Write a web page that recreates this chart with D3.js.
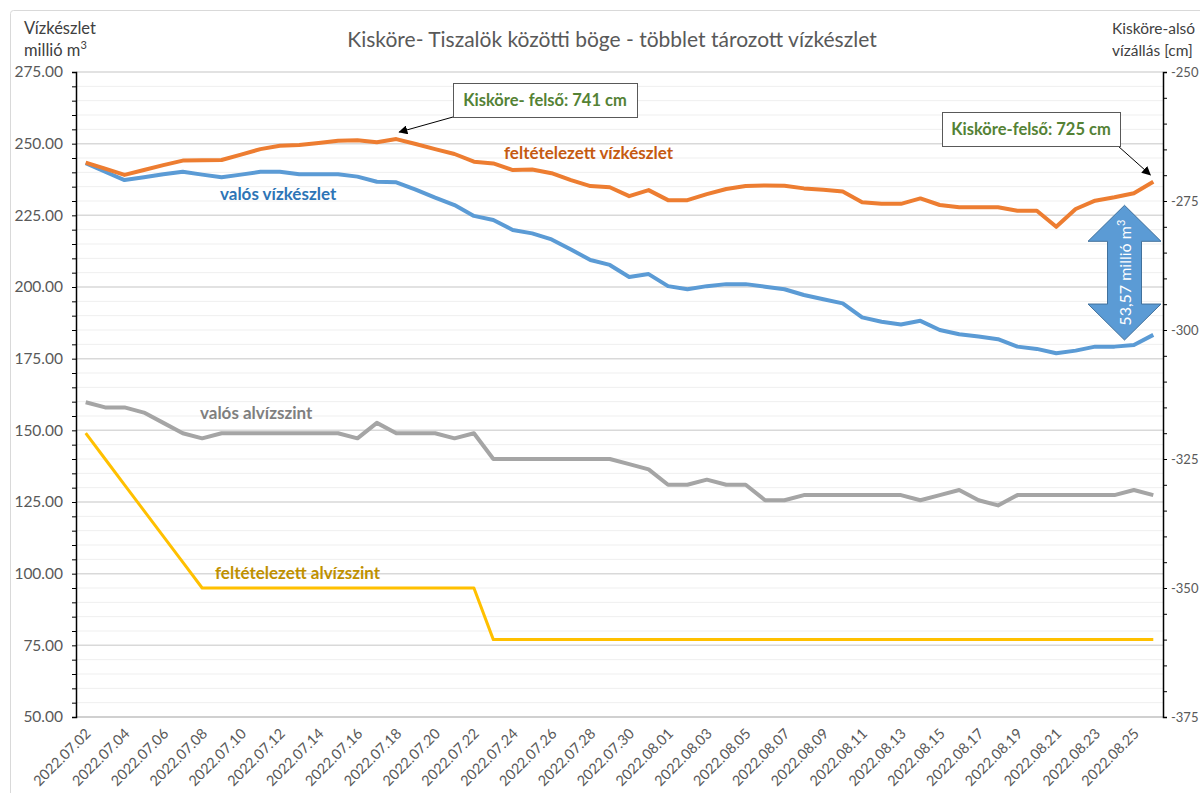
<!DOCTYPE html>
<html lang="hu">
<head>
  <meta charset="utf-8" />
  <title>Kisköre- Tiszalök közötti böge</title>
  <style>
    body { margin: 0; background: #fff; }
    svg text { font-family: Lato, "Open Sans", sans-serif; }
  </style>
</head>
<body>
  <div id="graphic"></div>

  <script src="https://cdnjs.cloudflare.com/ajax/libs/d3/7.8.5/d3.min.js"></script>
  <script>
    // napok (kategória tengely)
    var dates = [
      "2022.07.02","2022.07.03","2022.07.04","2022.07.05","2022.07.06","2022.07.07","2022.07.08",
      "2022.07.09","2022.07.10","2022.07.11","2022.07.12","2022.07.13","2022.07.14","2022.07.15",
      "2022.07.16","2022.07.17","2022.07.18","2022.07.19","2022.07.20","2022.07.21","2022.07.22",
      "2022.07.23","2022.07.24","2022.07.25","2022.07.26","2022.07.27","2022.07.28","2022.07.29",
      "2022.07.30","2022.07.31","2022.08.01","2022.08.02","2022.08.03","2022.08.04","2022.08.05",
      "2022.08.06","2022.08.07","2022.08.08","2022.08.09","2022.08.10","2022.08.11","2022.08.12",
      "2022.08.13","2022.08.14","2022.08.15","2022.08.16","2022.08.17","2022.08.18","2022.08.19",
      "2022.08.20","2022.08.21","2022.08.22","2022.08.23","2022.08.24","2022.08.25","2022.08.26"
    ];

    // millió m3 (bal tengely)
    var feltetelezettViz = [
      243.4,241.3,239.1,240.8,242.5,244.1,244.2,244.3,246.2,248.1,249.3,249.5,250.2,251.0,
      251.2,250.5,251.6,249.9,248.1,246.4,243.7,243.1,240.8,241.0,239.7,237.3,235.2,234.8,
      231.7,233.8,230.3,230.3,232.4,234.2,235.2,235.4,235.3,234.4,233.9,233.3,229.6,229.0,
      229.0,230.9,228.6,227.8,227.8,227.8,226.6,226.6,221.0,227.2,230.1,231.3,232.7,236.7
    ];
    var valosViz = [
      243.2,240.2,237.3,238.3,239.3,240.2,239.2,238.3,239.2,240.2,240.2,239.3,239.3,239.3,
      238.5,236.7,236.5,234.0,231.2,228.6,224.8,223.4,219.9,218.7,216.6,213.1,209.4,207.7,
      203.5,204.5,200.3,199.2,200.3,201.0,201.0,200.1,199.2,197.2,195.7,194.3,189.4,187.9,
      186.9,188.2,185.0,183.5,182.7,181.8,179.2,178.4,176.9,177.8,179.2,179.2,179.8,183.3
    ];

    // cm (jobb tengely)
    var valosAlviz = [
      -314,-315,-315,-316,-318,-320,-321,-320,-320,-320,-320,-320,-320,-320,
      -321,-318,-320,-320,-320,-321,-320,-325,-325,-325,-325,-325,-325,-325,
      -326,-327,-330,-330,-329,-330,-330,-333,-333,-332,-332,-332,-332,-332,
      -332,-333,-332,-331,-333,-334,-332,-332,-332,-332,-332,-332,-331,-332
    ];
    var feltetelezettAlviz = [
      -320,-325,-330,-335,-340,-345,-350,-350,-350,-350,-350,-350,-350,-350,
      -350,-350,-350,-350,-350,-350,-350,-360,-360,-360,-360,-360,-360,-360,
      -360,-360,-360,-360,-360,-360,-360,-360,-360,-360,-360,-360,-360,-360,
      -360,-360,-360,-360,-360,-360,-360,-360,-360,-360,-360,-360,-360,-360
    ];

    var leftTicks = [50, 75, 100, 125, 150, 175, 200, 225, 250, 275];
    var rightTicks = [-375, -350, -325, -300, -275, -250];

    var width = 1200, height = 793;
    var margin = {top: 72, right: 37, bottom: 76, left: 76};

    var svg = d3.select('#graphic').append('svg')
      .attr('width', width)
      .attr('height', height);

    // chart frame
    svg.append('rect')
      .attr('x', 10.5).attr('y', 10.5)
      .attr('width', 1260).attr('height', 860)
      .attr('rx', 3)
      .attr('fill', '#fff')
      .attr('stroke', '#d9d9d9');

    var x = d3.scalePoint()
      .domain(dates)
      .range([margin.left, width - margin.right])
      .padding(0.5);

    var yL = d3.scaleLinear()
      .domain([50, 275])
      .range([height - margin.bottom, margin.top]);

    var yR = d3.scaleLinear()
      .domain([-375, -250])
      .range([height - margin.bottom, margin.top]);

    // gridlines every 5, stronger every 25
    svg.append('g')
      .selectAll('line')
      .data(d3.range(55, 276, 5))
      .enter().append('line')
        .attr('x1', margin.left).attr('x2', width - margin.right)
        .attr('y1', function(d){ return yL(d); })
        .attr('y2', function(d){ return yL(d); })
        .attr('stroke', function(d){ return d % 25 === 0 ? '#d9d9d9' : '#efefef'; })
        .attr('stroke-width', function(d){ return d % 25 === 0 ? 1.5 : 1; });

    // bottom axis line
    svg.append('line')
      .attr('x1', margin.left).attr('x2', width - margin.right)
      .attr('y1', yL(50)).attr('y2', yL(50))
      .attr('stroke', '#d0d0d0').attr('stroke-width', 2);

    // left axis
    var leftAxis = svg.append('g')
      .attr('transform', 'translate(' + margin.left + ',0)')
      .call(d3.axisLeft(yL)
        .tickValues(d3.range(50, 276, 5))
        .tickSize(4)
        .tickFormat(function(d){ return leftTicks.indexOf(d) > -1 ? d3.format('.2f')(d) : ''; }));
    leftAxis.select('.domain').attr('stroke', '#000').attr('stroke-width', 1.5);
    leftAxis.selectAll('.tick line').attr('stroke', '#000');
    leftAxis.selectAll('text').attr('fill', '#595959').attr('font-size', '15.5px').attr('x', -13);

    // right axis
    var rightAxis = svg.append('g')
      .attr('transform', 'translate(' + (width - margin.right) + ',0)')
      .call(d3.axisRight(yR)
        .tickValues(d3.range(-375, -249, 5))
        .tickSize(4)
        .tickFormat(function(d){ return rightTicks.indexOf(d) > -1 ? d : ''; }));
    rightAxis.select('.domain').attr('stroke', '#000').attr('stroke-width', 1.5);
    rightAxis.selectAll('.tick line').attr('stroke', '#000');
    rightAxis.selectAll('text').attr('fill', '#595959').attr('font-size', '13px').attr('x', 8);

    // x axis labels (every second day)
    var xAxis = svg.append('g')
      .attr('transform', 'translate(0,' + yL(50) + ')')
      .call(d3.axisBottom(x)
        .tickValues(dates.filter(function(d, i){ return i % 2 === 0; }))
        .tickSize(0));
    xAxis.select('.domain').remove();
    xAxis.selectAll('text')
      .attr('fill', '#595959')
      .attr('font-size', '14.5px')
      .attr('text-anchor', 'end')
      .attr('x', 0).attr('y', 0).attr('dy', '0.35em')
      .attr('transform', 'translate(2,14) rotate(-45)');

    // lines
    function drawLine(values, scale, colour, w) {
      var line = d3.line()
        .x(function(d, i){ return x(dates[i]); })
        .y(function(d){ return scale(d); });
      svg.append('path')
        .datum(values)
        .attr('d', line)
        .attr('fill', 'none')
        .attr('stroke', colour)
        .attr('stroke-width', w)
        .attr('stroke-linejoin', 'round');
    }
    drawLine(feltetelezettAlviz, yR, '#ffc000', 3);
    drawLine(valosAlviz, yR, '#a5a5a5', 4);
    drawLine(valosViz, yL, '#5b9bd5', 4);
    drawLine(feltetelezettViz, yL, '#ed7d31', 4);

    // title and axis titles
    svg.append('text')
      .attr('x', 612).attr('y', 47)
      .attr('text-anchor', 'middle')
      .attr('font-size', '21px')
      .attr('fill', '#595959')
      .text('Kisköre- Tiszalök közötti böge - többlet tározott vízkészlet');

    var lt = svg.append('text').attr('font-size', '16.5px').attr('fill', '#404040');
    lt.append('tspan').attr('x', 24).attr('y', 34).text('Vízkészlet');
    lt.append('tspan').attr('x', 24).attr('y', 56).text('millió m');
    lt.append('tspan').attr('dy', -7).attr('font-size', '11px').text('3');

    var rt = svg.append('text').attr('font-size', '15.5px').attr('fill', '#404040');
    rt.append('tspan').attr('x', 1112).attr('y', 34).text('Kisköre-alsó');
    rt.append('tspan').attr('x', 1112).attr('y', 56).text('vízállás [cm]');

    // series labels
    function label(txt, lx, ly, colour) {
      svg.append('text')
        .attr('x', lx).attr('y', ly)
        .attr('font-size', '17px')
        .attr('font-weight', 'bold')
        .attr('fill', colour)
        .text(txt);
    }
    label('feltételezett vízkészlet', 504, 159, '#c55a11');
    label('valós vízkészlet', 220, 200, '#2e75b6');
    label('valós alvízszint', 200, 419, '#7f7f7f');
    label('feltételezett alvízszint', 215, 579, '#bf9000');

    // callout boxes with arrows
    svg.append('defs').append('marker')
      .attr('id', 'arr')
      .attr('viewBox', '0 0 10 10')
      .attr('refX', 9).attr('refY', 5)
      .attr('markerWidth', 9).attr('markerHeight', 9)
      .attr('orient', 'auto')
      .append('path').attr('d', 'M0,0 L10,5 L0,10 z').attr('fill', '#000');

    function callout(txt, bx, by, bw, bh, sx, sy, idx, scale, values) {
      svg.append('line')
        .attr('x1', sx).attr('y1', sy)
        .attr('x2', x(dates[idx]) + (sx > x(dates[idx]) ? 3 : -3))
        .attr('y2', scale(values[idx]) - 7)
        .attr('stroke', '#000').attr('stroke-width', 1)
        .attr('marker-end', 'url(#arr)');
      svg.append('rect')
        .attr('x', bx + 0.5).attr('y', by + 0.5)
        .attr('width', bw).attr('height', bh)
        .attr('fill', '#fff').attr('stroke', '#595959');
      svg.append('text')
        .attr('x', bx + bw / 2).attr('y', by + bh / 2 + 6)
        .attr('text-anchor', 'middle')
        .attr('font-size', '16.5px').attr('font-weight', 'bold')
        .attr('fill', '#548235')
        .text(txt);
    }
    callout('Kisköre- felső: 741 cm', 453, 83, 184, 34, 453, 117, 16, yL, feltetelezettViz);
    callout('Kisköre-felső: 725 cm', 942, 112, 178, 34, 1118, 146, 55, yL, feltetelezettViz);

    // double arrow showing the difference at the last day
    var arrowX = 1124.5, arrowTop = yL(228.5), arrowBot = yL(181.5);
    var hw = 36.5, sw = 17, hh = 36;
    svg.append('path')
      .attr('d', 'M' + arrowX + ',' + arrowTop +
        'L' + (arrowX + hw) + ',' + (arrowTop + hh) +
        'L' + (arrowX + sw) + ',' + (arrowTop + hh) +
        'L' + (arrowX + sw) + ',' + (arrowBot - hh) +
        'L' + (arrowX + hw) + ',' + (arrowBot - hh) +
        'L' + arrowX + ',' + arrowBot +
        'L' + (arrowX - hw) + ',' + (arrowBot - hh) +
        'L' + (arrowX - sw) + ',' + (arrowBot - hh) +
        'L' + (arrowX - sw) + ',' + (arrowTop + hh) +
        'L' + (arrowX - hw) + ',' + (arrowTop + hh) + 'Z')
      .attr('fill', '#5b9bd5')
      .attr('stroke', '#41719c')
      .attr('stroke-width', 1);
    var at = svg.append('text')
      .attr('transform', 'translate(' + (arrowX + 6) + ',' + ((arrowTop + arrowBot) / 2) + ') rotate(-90)')
      .attr('text-anchor', 'middle')
      .attr('font-size', '16px')
      .attr('fill', '#fff');
    at.append('tspan').text('53,57 millió m');
    at.append('tspan').attr('dy', -6).attr('font-size', '11px').text('3');
  </script>
</body>
</html>
